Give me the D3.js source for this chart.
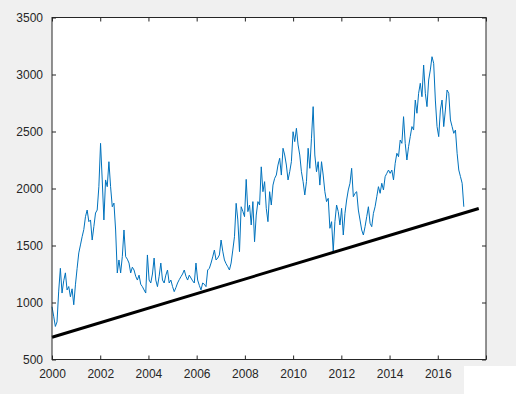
<!DOCTYPE html>
<html>
<head>
<meta charset="utf-8">
<script src="https://cdn.jsdelivr.net/npm/d3@7"></script>
<style>
  body { margin: 0; background: #f0f0f0; }
  svg { display: block; }
  .tick text { font-family: "Liberation Sans", Arial, sans-serif; font-size: 12px; fill: #262626; }
</style>
</head>
<body>
<svg id="chart" width="516" height="394"></svg>
<script>
var xTicks = [2000, 2002, 2004, 2006, 2008, 2010, 2012, 2014, 2016, 2018];
var yTicks = [500, 1000, 1500, 2000, 2500, 3000, 3500];

// sampled series, first sample 2000.00, last 2017.08
var seriesStart = 2000.0;
var seriesEnd = 2017.08;
var prices = [
  963, 880, 790, 830, 1100, 1300, 1083, 1190, 1260, 1110, 1140, 1050, 1120, 980,
  1155, 1300, 1435, 1505, 1577, 1640, 1753, 1811, 1709, 1724, 1548, 1665, 1785, 1811,
  2016, 2396, 2075, 1724, 2075, 2016, 2235, 2016, 1840, 1872, 1636, 1259, 1373, 1259,
  1402, 1636, 1402, 1380, 1346, 1259, 1310, 1285, 1230, 1197, 1240, 1160, 1139, 1110,
  1083, 1417, 1197, 1171, 1250, 1390, 1197, 1139, 1230, 1346, 1197, 1171, 1240, 1285,
  1171, 1197, 1140, 1095, 1130, 1171, 1200, 1226, 1250, 1285, 1230, 1197, 1240, 1215,
  1190, 1171, 1346, 1197, 1150, 1110, 1171, 1160, 1139, 1285, 1300, 1346, 1400, 1460,
  1373, 1390, 1417, 1548, 1450, 1373, 1340, 1314, 1285, 1346, 1460, 1577, 1870, 1724,
  1446, 1840, 1800, 1753, 2080, 1797, 1855, 1680, 1885, 1533, 1767, 1885, 1855, 2190,
  1972, 2060, 1826, 1709, 1972, 1855, 2030, 2089, 2118, 2206, 2265, 2118, 2353, 2294,
  2206, 2075, 2147, 2235, 2498, 2411, 2528, 2382, 2294, 2147, 2060, 1943, 2060, 2353,
  2177, 2441, 2718, 2294, 2147, 2235, 2030, 2235, 2118, 1972, 1885, 1914, 1651, 1709,
  1450, 1709, 1855, 1797, 1680, 1826, 1592, 1782, 1899, 1987, 2046, 2177, 1928, 1958,
  1972, 1811, 1724, 1636, 1592, 1665, 1753, 1840, 1695, 1665, 1782, 1840, 1928, 2016,
  1958, 2046, 1987, 2104, 2133, 2162, 2133, 2162, 2075, 2221, 2309, 2279, 2425, 2396,
  2630, 2396, 2250, 2367, 2455, 2543, 2513, 2776, 2660, 2835, 2923, 2805, 3083, 2835,
  2718, 2952, 3040, 3156, 3098, 2776, 2543, 2455, 2689, 2776, 2543, 2689, 2864, 2835,
  2601, 2543, 2484, 2513, 2309, 2162, 2104, 2046, 1840
];

var trendYears = [2000, 2017.7];
var trendValues = [695, 1825];

var margin = {left: 52, top: 17.5, right: 30, bottom: 34.5};
var width = 516 - margin.left - margin.right;
var height = 394 - margin.top - margin.bottom;

var svg = d3.select("#chart");
var g = svg.append("g").attr("transform", "translate(" + margin.left + "," + margin.top + ")");

var x = d3.scaleLinear().domain([2000, 2018]).range([0, width]);
var y = d3.scaleLinear().domain([500, 3500]).range([height, 0]);

var step = (seriesEnd - seriesStart) / (prices.length - 1);
var series = prices.map(function(v, i) { return [seriesStart + i * step, v]; });

g.append("rect").attr("width", width).attr("height", height).attr("fill", "#fff");

var line = d3.line().x(function(d) { return x(d[0]); }).y(function(d) { return y(d[1]); });

g.append("path")
  .datum(series)
  .attr("fill", "none")
  .attr("stroke", "#0072BD")
  .attr("stroke-width", 1)
  .attr("stroke-linejoin", "round")
  .attr("d", line);

g.append("path")
  .datum(d3.zip(trendYears, trendValues))
  .attr("fill", "none")
  .attr("stroke", "#000")
  .attr("stroke-width", 3)
  .attr("d", line);

var fmt = d3.format("d");

var xb = g.append("g").attr("transform", "translate(0," + height + ")")
  .call(d3.axisBottom(x).tickValues(xTicks).tickFormat(fmt).tickSizeInner(-4).tickSizeOuter(0).tickPadding(10));
var xt = g.append("g")
  .call(d3.axisTop(x).tickValues(xTicks).tickFormat("").tickSizeInner(-4).tickSizeOuter(0));
var yl = g.append("g")
  .call(d3.axisLeft(y).tickValues(yTicks).tickFormat(fmt).tickSizeInner(-4).tickSizeOuter(0).tickPadding(9));
var yr = g.append("g").attr("transform", "translate(" + width + ",0)")
  .call(d3.axisRight(y).tickValues(yTicks).tickFormat("").tickSizeInner(-4).tickSizeOuter(0));

g.selectAll(".domain").remove();
g.selectAll(".tick line").attr("stroke", "#262626");

g.append("rect").attr("width", width).attr("height", height)
  .attr("fill", "none").attr("stroke", "#262626").attr("stroke-width", 1);

// white patch in the lower right corner of the figure
svg.append("rect").attr("x", 464).attr("y", 366).attr("width", 52).attr("height", 28).attr("fill", "#fff");
</script>
</body>
</html>
